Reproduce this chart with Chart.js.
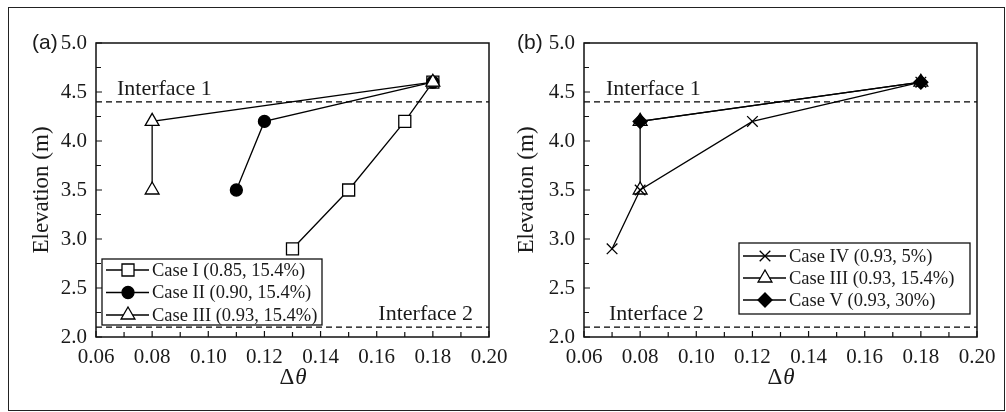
<!DOCTYPE html>
<html>
<head>
<meta charset="utf-8">
<script src="https://cdn.jsdelivr.net/npm/chart.js@4.4.0/dist/chart.umd.min.js"></script>
<style>
  body { margin: 0; background: #fff; }
  #wrap { position: relative; width: 1006px; height: 412px; overflow: hidden; }
  #frame { position: absolute; left: 8px; top: 7px; width: 997px; height: 404px; border: 1.5px solid #222; box-sizing: border-box; }
  canvas { position: absolute; top: 0; }
  #chartA { left: 0; }
  #chartB { left: 500px; }
</style>
</head>
<body>
<div id="wrap">
  <div id="frame"></div>
  <canvas id="chartA" width="530" height="412"></canvas>
  <canvas id="chartB" width="506" height="412"></canvas>
</div>
<script>
// axis ticks
const xTickValues = [0.06, 0.08, 0.10, 0.12, 0.14, 0.16, 0.18, 0.20];
const yTickValues = [2.0, 2.5, 3.0, 3.5, 4.0, 4.5, 5.0];

// delta theta vs elevation for each case
const case1X = [0.13, 0.15, 0.17, 0.18];
const case1Y = [2.9, 3.5, 4.2, 4.6];
const case2X = [0.11, 0.12, 0.18];
const case2Y = [3.5, 4.2, 4.6];
const case3X = [0.08, 0.08, 0.18];
const case3Y = [3.5, 4.2, 4.6];
const case4X = [0.07, 0.08, 0.12, 0.18];
const case4Y = [2.9, 3.5, 4.2, 4.6];
const case5X = [0.08, 0.18];
const case5Y = [4.2, 4.6];

const caseNames = {
  I: 'Case I (0.85, 15.4%)',
  II: 'Case II (0.90, 15.4%)',
  III: 'Case III (0.93, 15.4%)',
  IV: 'Case IV (0.93, 5%)',
  V: 'Case V (0.93, 30%)'
};

// soil layer interfaces
const interfaceNames = ['Interface 1', 'Interface 2'];
const interfaceElev = [4.4, 2.1];

const SERIF = "'Liberation Serif', 'Times New Roman', serif";
const SANS = "'Liberation Sans', Arial, sans-serif";
const INK = '#1a1a1a';

Chart.defaults.font.family = SERIF;
Chart.defaults.color = INK;

function points(xs, ys) {
  return xs.map((x, i) => ({ x: x, y: ys[i] }));
}

function caseSet(label, xs, ys, style, radius, fill, order) {
  return {
    label: label,
    data: points(xs, ys),
    showLine: true,
    borderColor: '#000',
    borderWidth: 1.3,
    pointStyle: style,
    pointRadius: radius,
    pointBackgroundColor: fill,
    pointBorderColor: '#000',
    pointBorderWidth: 1.3,
    order: order
  };
}

function interfaceSets() {
  return interfaceElev.map(e => ({
    label: '',
    isInterface: true,
    data: points([xTickValues[0], xTickValues[xTickValues.length - 1]], [e, e]),
    showLine: true,
    borderColor: '#000',
    borderWidth: 1.3,
    borderDash: [6, 4],
    pointRadius: 0,
    order: 10
  }));
}

// frame, inward ticks, x title, interface names, panel tag and boxed legend
const decorPlugin = {
  id: 'decor',
  afterDraw(chart, args, opts) {
    const { ctx, chartArea: area } = chart;
    const xs = chart.scales.x, ys = chart.scales.y;
    ctx.save();

    ctx.strokeStyle = '#111';
    ctx.lineWidth = 1.5;
    ctx.strokeRect(area.left, area.top, area.right - area.left, area.bottom - area.top);

    ctx.lineWidth = 1.2;
    ctx.beginPath();
    xTickValues.forEach((v, i) => {
      const px = xs.getPixelForValue(v);
      ctx.moveTo(px, area.bottom); ctx.lineTo(px, area.bottom - 6);
      if (i < xTickValues.length - 1) {
        const mx = xs.getPixelForValue((v + xTickValues[i + 1]) / 2);
        ctx.moveTo(mx, area.bottom); ctx.lineTo(mx, area.bottom - 5);
      }
    });
    yTickValues.forEach((v, i) => {
      const py = ys.getPixelForValue(v);
      ctx.moveTo(area.left, py); ctx.lineTo(area.left + 6, py);
      if (i < yTickValues.length - 1) {
        const my = ys.getPixelForValue((v + yTickValues[i + 1]) / 2);
        ctx.moveTo(area.left, my); ctx.lineTo(area.left + 5, my);
      }
    });
    ctx.stroke();

    // x title: upright delta, italic theta
    ctx.fillStyle = INK;
    ctx.textBaseline = 'middle';
    const fontUp = '23px ' + SERIF, fontIt = 'italic 23px ' + SERIF;
    ctx.font = fontUp;
    const wD = ctx.measureText('Δ').width;
    ctx.font = fontIt;
    const wT = ctx.measureText('θ').width;
    let tx = (area.left + area.right) / 2 - (wD + wT) / 2;
    const ty = area.bottom + 41;
    ctx.textAlign = 'left';
    ctx.font = fontUp;
    ctx.fillText('Δ', tx, ty);
    ctx.font = fontIt;
    ctx.fillText('θ', tx + wD + 1, ty);

    // interface names
    ctx.font = '22px ' + SERIF;
    ctx.textBaseline = 'alphabetic';
    opts.interfaceLabels.forEach(l => {
      const py = ys.getPixelForValue(interfaceElev[l.index]) - 7;
      if (l.align === 'right') {
        ctx.textAlign = 'right';
        ctx.fillText(interfaceNames[l.index], area.right - l.inset, py);
      } else {
        ctx.textAlign = 'left';
        ctx.fillText(interfaceNames[l.index], area.left + l.inset, py);
      }
    });

    // panel tag
    ctx.font = '21px ' + SANS;
    ctx.textAlign = 'left';
    ctx.textBaseline = 'middle';
    ctx.fillText(opts.tag, opts.tagX, area.top);

    // legend box
    const box = opts.legend;
    ctx.fillStyle = '#fff';
    ctx.fillRect(box.x, box.y, box.w, box.h);
    ctx.strokeStyle = '#111';
    ctx.lineWidth = 1.3;
    ctx.strokeRect(box.x, box.y, box.w, box.h);
    const rows = chart.data.datasets.filter(d => !d.isInterface);
    rows.forEach((d, i) => {
      const cy = box.y + box.first + i * box.step;
      ctx.strokeStyle = '#000';
      ctx.lineWidth = 1.3;
      ctx.beginPath();
      ctx.moveTo(box.x + 4, cy);
      ctx.lineTo(box.x + 47, cy);
      ctx.stroke();
      ctx.fillStyle = d.pointBackgroundColor;
      Chart.helpers.drawPoint(ctx, {
        pointStyle: d.pointStyle,
        radius: d.pointRadius,
        borderWidth: 1.3,
        rotation: 0
      }, box.x + 26, cy);
      ctx.fillStyle = INK;
      ctx.font = '18.5px ' + SERIF;
      ctx.textAlign = 'left';
      ctx.textBaseline = 'middle';
      ctx.fillText(d.label, box.x + 50, cy + 1);
    });

    ctx.restore();
  }
};

function makeOptions(yWidth, padRight, decor) {
  return {
    responsive: false,
    animation: false,
    devicePixelRatio: 1,
    layout: { padding: { top: 43, right: padRight, bottom: 0, left: 0 } },
    plugins: {
      legend: { display: false },
      tooltip: { enabled: false },
      decor: decor
    },
    scales: {
      x: {
        type: 'linear',
        min: xTickValues[0],
        max: xTickValues[xTickValues.length - 1],
        afterBuildTicks: s => { s.ticks = xTickValues.map(v => ({ value: v })); },
        afterFit: s => { s.height = 75; },
        grid: { display: false, drawTicks: false },
        border: { display: false },
        ticks: {
          padding: 8,
          color: INK,
          font: { size: 21 },
          callback: v => v.toFixed(2)
        }
      },
      y: {
        type: 'linear',
        min: yTickValues[0],
        max: yTickValues[yTickValues.length - 1],
        afterBuildTicks: s => { s.ticks = yTickValues.map(v => ({ value: v })); },
        afterFit: s => { s.width = yWidth; },
        grid: { display: false, drawTicks: false },
        border: { display: false },
        ticks: {
          padding: 9,
          color: INK,
          font: { size: 21 },
          callback: v => v.toFixed(1)
        },
        title: {
          display: true,
          text: 'Elevation (m)',
          color: INK,
          font: { size: 23 },
          padding: { top: decor.titlePad, bottom: 0 }
        }
      }
    }
  };
}

new Chart(document.getElementById('chartA'), {
  type: 'scatter',
  data: {
    datasets: [
      caseSet(caseNames.I, case1X, case1Y, 'rect', 8.5, '#fff', 3),
      caseSet(caseNames.II, case2X, case2Y, 'circle', 6, '#000', 2),
      caseSet(caseNames.III, case3X, case3Y, 'triangle', 8, '#fff', 1)
    ].concat(interfaceSets())
  },
  options: makeOptions(96, 41, {
    tag: '(a)',
    tagX: 32,
    titlePad: 28,
    interfaceLabels: [
      { index: 0, align: 'left', inset: 21 },
      { index: 1, align: 'right', inset: 16 }
    ],
    legend: { x: 102, y: 259, w: 220, h: 66, first: 11, step: 22.5 }
  }),
  plugins: [decorPlugin]
});

new Chart(document.getElementById('chartB'), {
  type: 'scatter',
  data: {
    datasets: [
      caseSet(caseNames.IV, case4X, case4Y, 'crossRot', 7.5, '#000', 2),
      caseSet(caseNames.III, case3X, case3Y, 'triangle', 8, '#fff', 3),
      caseSet(caseNames.V, case5X, case5Y, 'rectRot', 7, '#000', 1)
    ].concat(interfaceSets())
  },
  options: makeOptions(84, 29, {
    tag: '(b)',
    tagX: 17,
    titlePad: 13,
    interfaceLabels: [
      { index: 0, align: 'left', inset: 22 },
      { index: 1, align: 'left', inset: 25 }
    ],
    legend: { x: 239, y: 243, w: 231, h: 71, first: 13, step: 22 }
  }),
  plugins: [decorPlugin]
});
</script>
</body>
</html>
